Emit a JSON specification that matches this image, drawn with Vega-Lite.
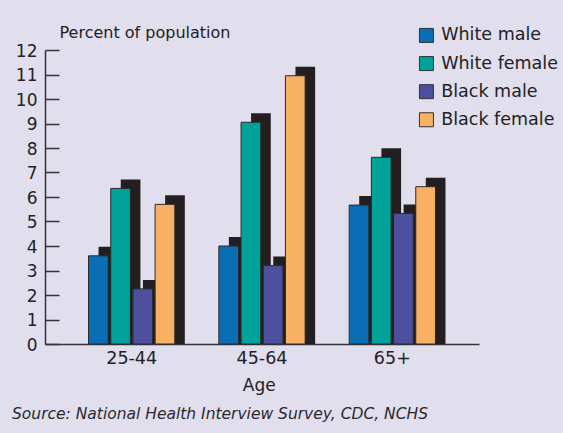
{
  "$schema": "https://vega.github.io/schema/vega-lite/v6.json",
  "width": 434,
  "height": 294,
  "autosize": {"type": "none"},
  "padding": {"left": 45, "top": 50, "right": 84, "bottom": 89},
  "background": "#e1deee",
  "config": {"view": {"stroke": null}, "font": "DejaVu Sans"},
  "title": {
    "text": "Source: National Health Interview Survey, CDC, NCHS",
    "orient": "bottom",
    "anchor": "start",
    "frame": "group",
    "offset": 25,
    "dx": -33,
    "baseline": "alphabetic",
    "font": "DejaVu Sans",
    "fontSize": 15.5,
    "fontStyle": "italic",
    "fontWeight": "normal",
    "color": "#2a2a2a"
  },
  "data": {
    "values": [
      {"age": "25-44", "group": "White male", "pct": 3.6},
      {"age": "25-44", "group": "White female", "pct": 6.35},
      {"age": "25-44", "group": "Black male", "pct": 2.25},
      {"age": "25-44", "group": "Black female", "pct": 5.7},
      {"age": "45-64", "group": "White male", "pct": 4.0},
      {"age": "45-64", "group": "White female", "pct": 9.05},
      {"age": "45-64", "group": "Black male", "pct": 3.2},
      {"age": "45-64", "group": "Black female", "pct": 10.95},
      {"age": "65+", "group": "White male", "pct": 5.67},
      {"age": "65+", "group": "White female", "pct": 7.62},
      {"age": "65+", "group": "Black male", "pct": 5.33},
      {"age": "65+", "group": "Black female", "pct": 6.42}
    ]
  },
  "encoding": {
    "y": {
      "field": "pct", "type": "quantitative", "stack": null,
      "scale": {"domain": [0, 12], "nice": false},
      "axis": {
        "values": [0, 1, 2, 3, 4, 5, 6, 7, 8, 9, 10, 11, 12],
        "labelOverlap": false,
        "grid": false,
        "tickSize": -14,
        "tickColor": "#333",
        "tickWidth": 1.5,
        "domainColor": "#333",
        "domainWidth": 1.5,
        "labelFont": "DejaVu Sans",
        "labelFontSize": 17,
        "labelColor": "#222",
        "labelPadding": 22,
        "labelOffset": 1,
        "title": "Percent of population",
        "titleAngle": 0,
        "titleX": 14,
        "titleY": -13,
        "titleAlign": "left",
        "titleBaseline": "alphabetic",
        "titleFont": "DejaVu Sans",
        "titleFontSize": 16,
        "titleFontWeight": "normal",
        "titleColor": "#222"
      }
    }
  },
  "resolve": {"scale": {"x": "independent", "xOffset": "independent"}, "axis": {"x": "independent"}},
  "layer": [
    {
      "mark": {"type": "bar", "color": "#231f20", "yOffset": -9},
      "encoding": {
        "x": {
          "field": "age", "type": "nominal", "sort": ["25-44", "45-64", "65+"],
          "scale": {"paddingInner": 0.338, "paddingOuter": 0.334, "align": 0.615},
          "axis": null
        },
        "xOffset": {
          "field": "group", "type": "nominal",
          "sort": ["White male", "White female", "Black male", "Black female"],
          "scale": {"paddingInner": 0.113, "paddingOuter": 0}
        },
        "y2": {"datum": 0}
      }
    },
    {
      "mark": {"type": "bar", "stroke": "#2a2a2a", "strokeWidth": 1},
      "encoding": {
        "x": {
          "field": "age", "type": "nominal", "sort": ["25-44", "45-64", "65+"],
          "scale": {"paddingInner": 0.338, "paddingOuter": 0.334},
          "axis": {
            "labelAngle": 0,
            "labelFont": "DejaVu Sans",
            "labelFontSize": 17.5,
            "labelColor": "#222",
            "labelPadding": 5,
            "ticks": false,
            "domainColor": "#333",
            "domainWidth": 1.5,
            "title": "Age",
            "titleFont": "DejaVu Sans",
            "titleFontSize": 17,
            "titleFontWeight": "normal",
            "titleColor": "#222",
            "titleX": 213.7,
            "titleY": 46.7,
            "titleBaseline": "alphabetic"
          }
        },
        "xOffset": {
          "field": "group", "type": "nominal",
          "sort": ["White male", "White female", "Black male", "Black female"],
          "scale": {"paddingInner": 0.113, "paddingOuter": 0}
        },
        "color": {
          "field": "group", "type": "nominal",
          "sort": ["White male", "White female", "Black male", "Black female"],
          "scale": {
            "domain": ["White male", "White female", "Black male", "Black female"],
            "range": ["#0b6db4", "#00a29a", "#4d4f9f", "#f7b064"]
          },
          "legend": {
            "orient": "none",
            "legendX": 372.7,
            "legendY": -23.3,
            "title": null,
            "padding": 0,
            "symbolType": "square",
            "symbolSize": 196,
            "symbolStrokeColor": "#333",
            "symbolStrokeWidth": 1,
            "symbolOpacity": 1,
            "labelFont": "DejaVu Sans",
            "labelFontSize": 17.5,
            "labelColor": "#222",
            "labelOffset": 6,
            "rowPadding": 9.1
          }
        }
      }
    }
  ]
}
